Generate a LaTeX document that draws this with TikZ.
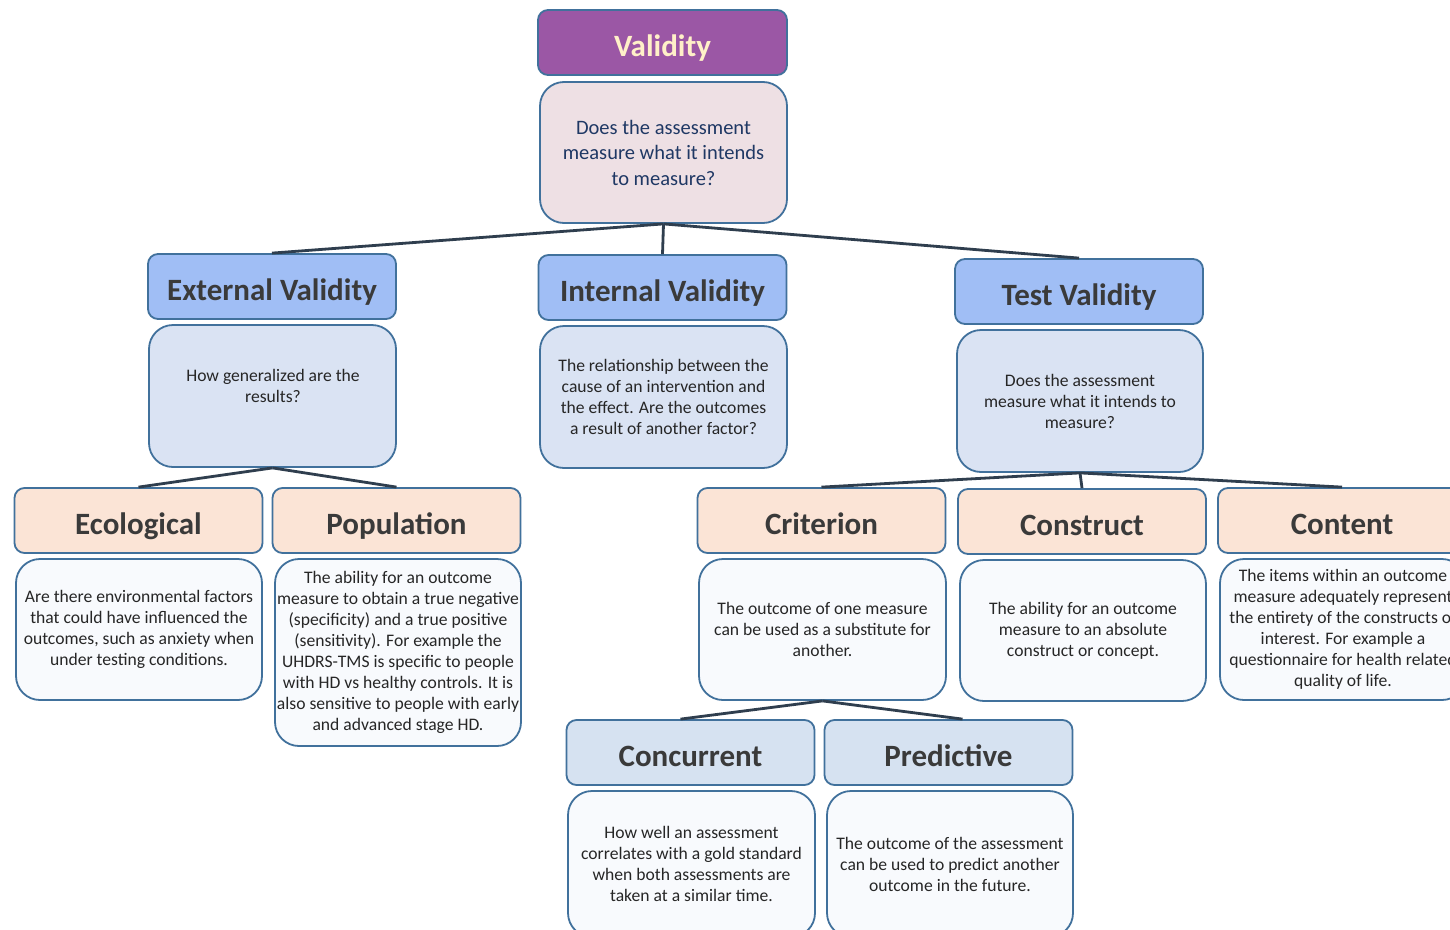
\documentclass[tikz,border=0pt]{standalone}
\usepackage{fontspec}
\setmainfont{Carlito}
\usetikzlibrary{calc}
\definecolor{purp}{HTML}{9B57A5}
\definecolor{vdfill}{HTML}{EEE0E4}
\definecolor{cream}{HTML}{FFF0C8}
\definecolor{navy}{HTML}{1F3864}
\definecolor{bluettl}{HTML}{A0BEF5}
\definecolor{bluedsc}{HTML}{DAE3F3}
\definecolor{peach}{HTML}{FBE4D6}
\definecolor{whitedsc}{HTML}{F8FAFD}
\definecolor{concttl}{HTML}{D6E2F1}
\definecolor{bord}{HTML}{41719C}
\definecolor{lnk}{HTML}{2F3E4E}
\definecolor{ttltext}{HTML}{3A3A3A}
\definecolor{dsctext}{HTML}{262626}
\tikzset{
  box/.style={draw=bord, line width=1.8pt, rounded corners=10pt, align=center, inner sep=0pt,
              minimum width=248pt},
  ttl/.style={box, minimum height=65pt, font=\fontsize{31}{35}\selectfont\bfseries, text=ttltext,
              text height=27pt, text depth=0pt},
  dsc/.style={box, rounded corners=24pt, font=\fontsize{17.6}{21}\selectfont, text=dsctext},
  txt/.style={align=center, inner sep=0pt, font=\fontsize{17.6}{21}\selectfont, text=dsctext},
  conn/.style={draw=lnk, line width=2.8pt},
}
\begin{document}
\begin{tikzpicture}[x=1pt,y=-1pt]
\useasboundingbox (0,0) rectangle (1450,929);
\clip (0,0) rectangle (1450,929);
\fill[white] (0,0) rectangle (1450,929);

% level 0
\node[ttl, fill=purp, text=cream, minimum width=249pt] (v) at (662.5,42.5) {Validity};
\node[dsc, fill=vdfill, text=navy, minimum width=247pt, minimum height=141pt,
      font=\fontsize{20.5}{25.5}\selectfont] (vd) at (663.5,152.5)
  {Does the assessment\\measure what it intends\\to measure?};

% level 1
\node[ttl, fill=bluettl] (ext) at (272,286.5) {External Validity};
\node[dsc, fill=bluedsc, minimum width=247pt, minimum height=142pt] (extd) at (272.5,396) {};
\node[txt] (extt) at (273,386) {How generalized are the\\results?};

\node[ttl, fill=bluettl] (int) at (662.5,287.5) {Internal Validity};
\node[dsc, fill=bluedsc, minimum width=247pt, minimum height=142pt] (intd) at (663.5,397)
  {The relationship between the\\cause of an intervention and\\the effect. Are the outcomes\\a result of another factor?};

\node[ttl, fill=bluettl] (test) at (1079,291.5) {Test Validity};
\node[dsc, fill=bluedsc, minimum width=246pt, minimum height=142pt] (testd) at (1080,401)
  {Does the assessment\\measure what it intends to\\measure?};

% level 2
\node[ttl, fill=peach] (eco) at (138.5,520.5) {Ecological};
\node[dsc, fill=whitedsc, minimum width=246pt, minimum height=141pt] (ecod) at (139,629.5)
  {Are there environmental factors\\that could have influenced the\\outcomes, such as anxiety when\\under testing conditions.};

\node[ttl, fill=peach] (pop) at (396.5,520.5) {Population};
\node[dsc, fill=whitedsc, minimum width=246pt, minimum height=187pt] (popd) at (398,652.5)
  {The ability for an outcome\\measure to obtain a true negative\\(specificity) and a true positive\\(sensitivity). For example the\\UHDRS-TMS is specific to people\\with HD vs healthy controls. It is\\also sensitive to people with early\\and advanced stage HD.};

\node[ttl, fill=peach] (cri) at (821.5,520.5) {Criterion};
\node[dsc, fill=whitedsc, minimum width=247pt, minimum height=141pt] (crid) at (822.5,629.5)
  {The outcome of one measure\\can be used as a substitute for\\another.};

\node[ttl, fill=peach] (cons) at (1082,521.5) {Construct};
\node[dsc, fill=whitedsc, minimum width=246pt, minimum height=141pt] (consd) at (1083,630.5)
  {The ability for an outcome\\measure to an absolute\\construct or concept.};

\node[ttl, fill=peach] (cont) at (1342,520.5) {Content};
\node[dsc, fill=whitedsc, minimum width=246pt, minimum height=141pt] (contd) at (1343,629.5)
  {The items within an outcome\\measure adequately represent\\the entirety of the constructs of\\interest. For example a\\questionnaire for health related\\quality of life.};

% level 3
\node[ttl, fill=concttl] (conc) at (690.5,752.5) {Concurrent};
\node[dsc, fill=whitedsc, minimum width=247pt, minimum height=146pt] (concd) at (691.5,864)
  {How well an assessment\\correlates with a gold standard\\when both assessments are\\taken at a similar time.};

\node[ttl, fill=concttl] (pred) at (948.5,752.5) {Predictive};
\node[dsc, fill=whitedsc, minimum width=246pt, minimum height=146pt] (predd) at (950,864)
  {The outcome of the assessment\\can be used to predict another\\outcome in the future.};

% connectors
\draw[conn] (vd.south) -- (ext.north);
\draw[conn] (vd.south) -- (int.north);
\draw[conn] (vd.south) -- (test.north);
\draw[conn] (extd.south) -- (eco.north);
\draw[conn] (extd.south) -- (pop.north);
\draw[conn] (testd.south) -- (cri.north);
\draw[conn] (testd.south) -- (cons.north);
\draw[conn] (testd.south) -- (cont.north);
\draw[conn] (crid.south) -- ($(conc.north)+(-10,0)$);
\draw[conn] (crid.south) -- ($(pred.north)+(14,0)$);
\end{tikzpicture}
\end{document}
